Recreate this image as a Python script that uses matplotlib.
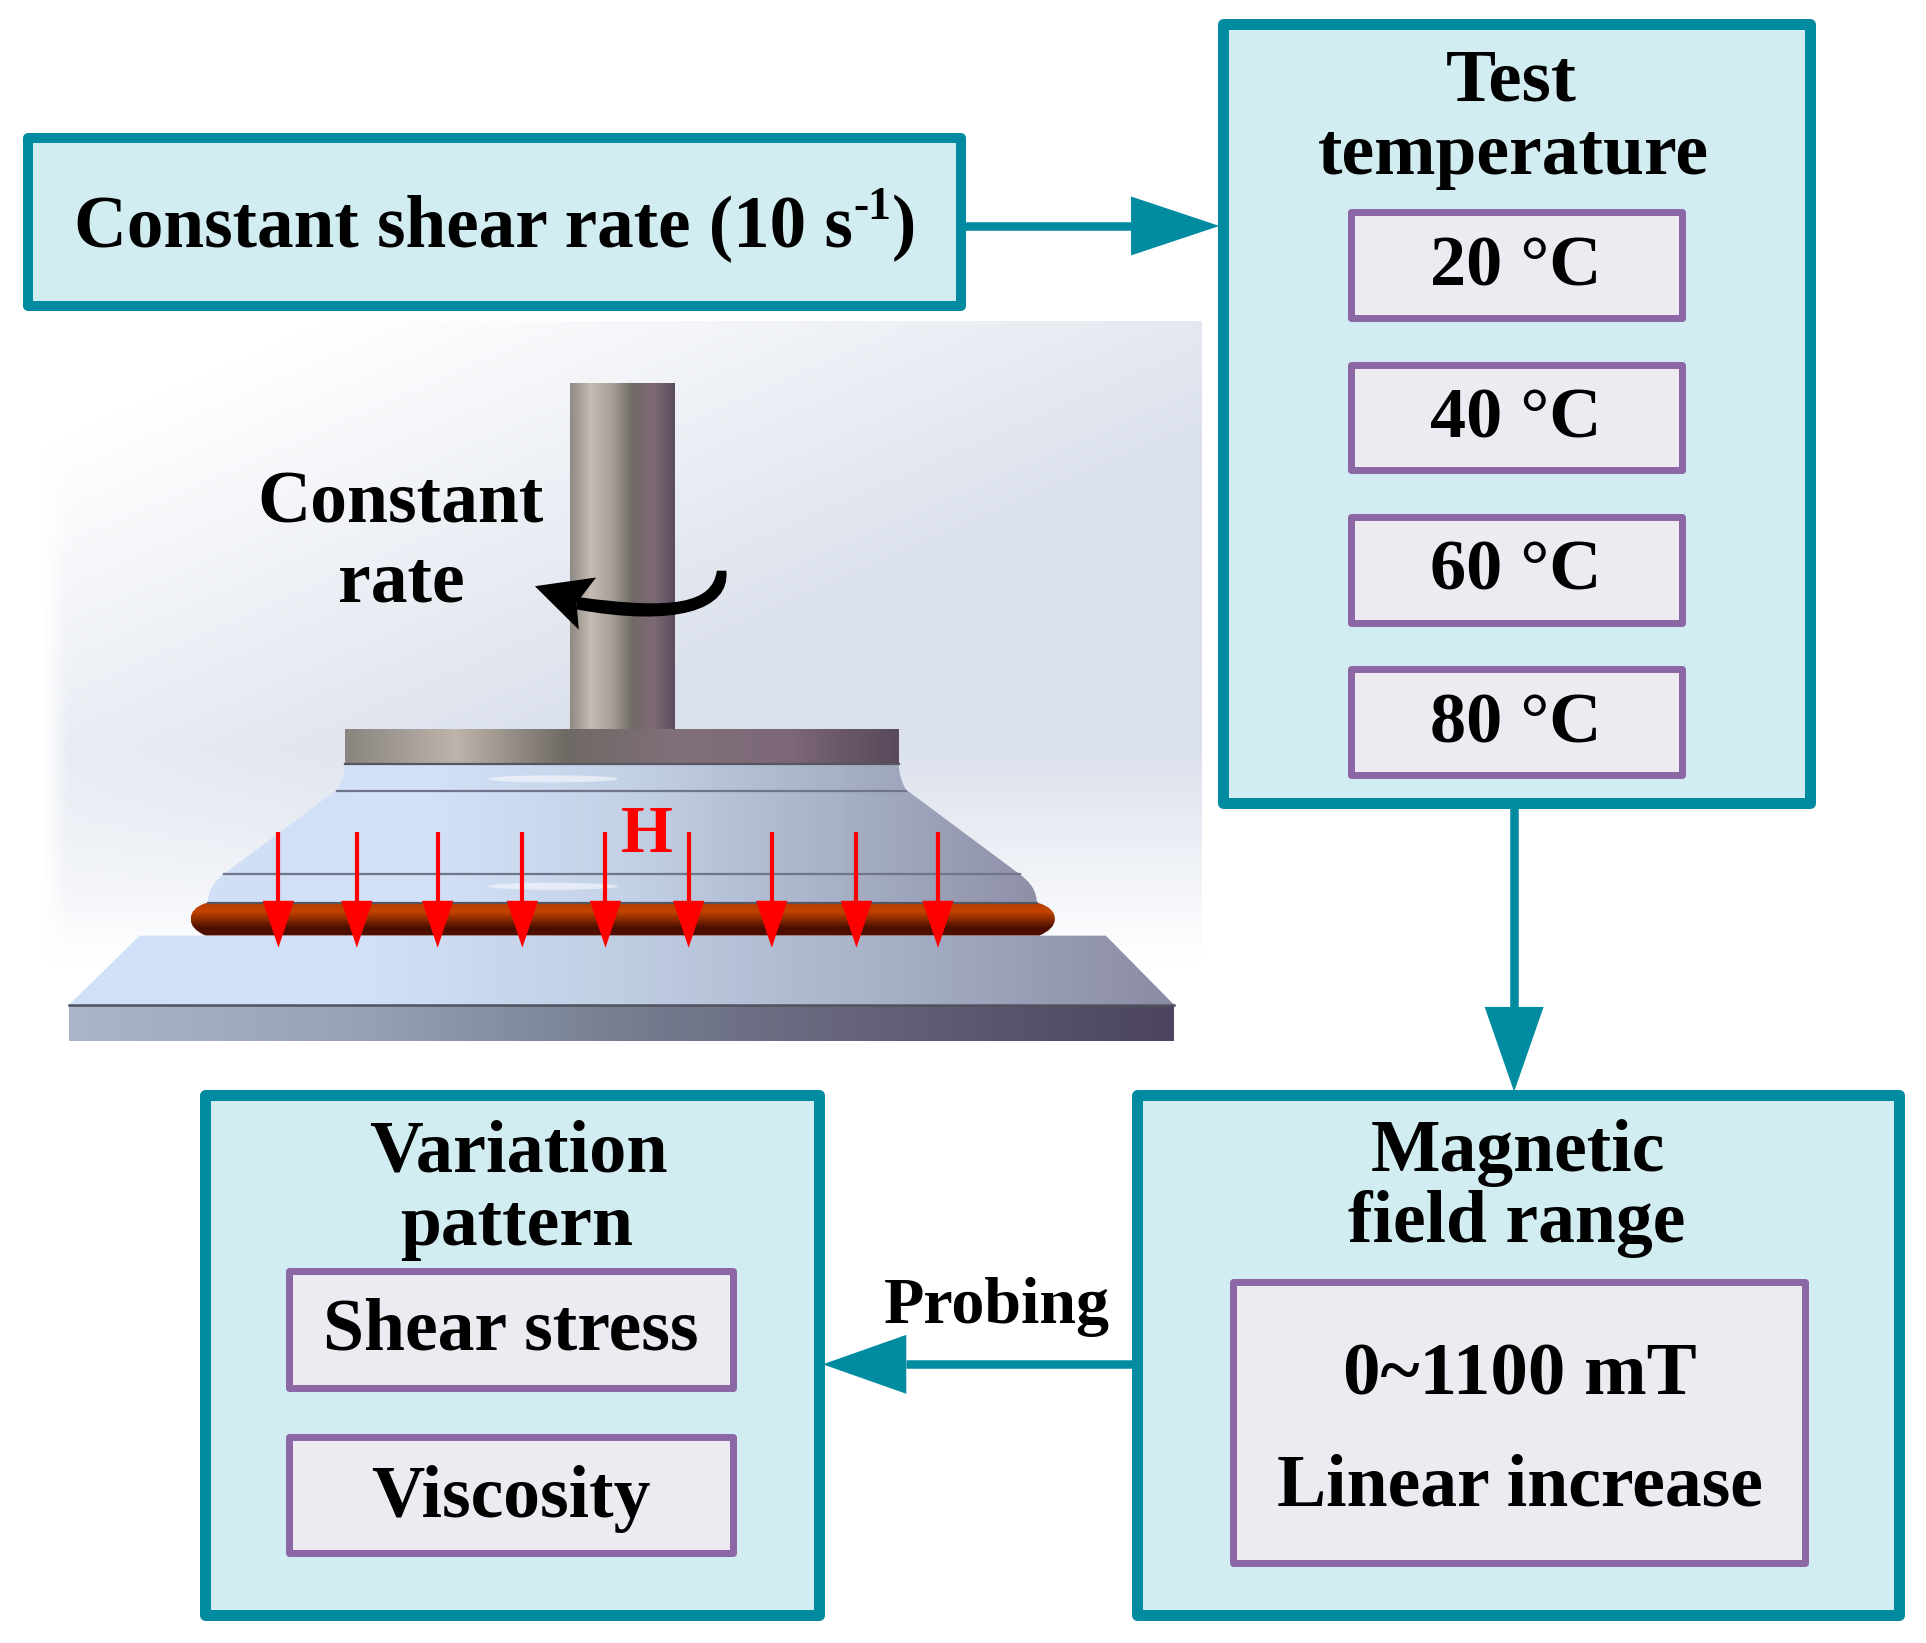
import numpy as np
import matplotlib
matplotlib.use('Agg')
import matplotlib.pyplot as plt
from matplotlib.colors import LinearSegmentedColormap, to_rgb
from matplotlib.patches import Rectangle, Polygon, PathPatch, Ellipse
from matplotlib.path import Path

plt.rcParams['font.family'] = ['Liberation Serif', 'DejaVu Serif']

TEAL = '#008BA0'
TEAL_FILL = '#D2EDF2'
PURPLE = '#8C67A5'
PURPLE_FILL = '#EEEAF2'

temperatures = ['20 °C', '40 °C', '60 °C', '80 °C']
temp_rows = [171, 295, 419, 543]
pattern_labels = ['Shear stress', 'Viscosity']
field_labels = ['0~1100 mT', 'Linear increase']
arrow_columns = [355, 455, 558, 666, 772, 878, 984, 1092, 1196]

S = 1.228  # layout below was measured on a 1568 px wide copy of the figure
ZX, ZY = 1 / 1.275, 0.484  # scene was measured on a zoomed crop, stretched in y

fig = plt.figure(figsize=(19.26, 16.43), dpi=100)
ax = fig.add_axes([0, 0, 1, 1])
ax.set_xlim(0, 1926)
ax.set_ylim(1643, 0)
ax.axis('off')


def zp(x, y):
    return (x * ZX, 320 + y * ZY)


def box(x0, y0, x1, y1, edge, fill, lw_px, pad=0):
    x0, y0, x1, y1 = x0 * S - pad, y0 * S - pad, x1 * S + pad, y1 * S + pad
    ax.add_patch(Rectangle((x0 + lw_px / 2, y0 + lw_px / 2), x1 - x0 - lw_px, y1 - y0 - lw_px,
                           fc=fill, ec=edge, lw=lw_px * 0.72, joinstyle='round', zorder=3))


def label(x, y, s, size, color='black', **kw):
    ax.text(x * S, y * S, s, fontsize=size, fontweight='bold', color=color,
            ha=kw.pop('ha', 'center'), va=kw.pop('va', 'center'), zorder=6, **kw)


def arrow(x0, y0, x1, y1, head_len, head_half):
    # straight arrow with a flat triangular head, in layout coordinates
    d = np.array([x1 - x0, y1 - y0], dtype=float)
    d /= np.hypot(*d)
    n = np.array([-d[1], d[0]])
    tip = np.array([x1, y1], dtype=float)
    base = tip - d * head_len
    ax.plot([x0 * S, base[0] * S], [y0 * S, base[1] * S], color=TEAL, lw=8.5 * 0.72,
            solid_capstyle='butt', zorder=2)
    pts = np.array([tip, base + n * head_half, base - n * head_half]) * S
    ax.add_patch(Polygon(pts, closed=True, fc=TEAL, ec='none', zorder=2))


def shaded(patch, stops, horizontal=True, z=1.5):
    # fill a patch with a linear gradient by clipping an image to it
    ax.add_patch(patch)
    patch.set(fc='none', ec='none', zorder=z)
    ext = patch.get_path().transformed(patch.get_patch_transform()).get_extents()
    cmap = LinearSegmentedColormap.from_list('g', stops)
    g = np.linspace(0, 1, 256)
    g = g[None, :] if horizontal else g[:, None]
    im = ax.imshow(g, cmap=cmap, extent=(ext.x0, ext.x1, ext.y1, ext.y0), aspect='auto',
                   zorder=z, interpolation='bilinear')
    im.set_clip_path(patch)


# scene background
h, w = 300, 470
yy, xx = np.mgrid[0:h, 0:w]
xn, yn = xx / (w - 1), yy / (h - 1)
t = np.clip(1.0 * xn + 1.45 * yn - 0.25, 0, 1)
fade = np.clip((yn - 0.58) / 0.29, 0, 1)
t = t * (1 - fade) * np.clip(xn / 0.02, 0, 1)
top = np.array([1, 1, 1.0])
blue = np.array(to_rgb('#DBE1EC'))
bg = top[None, None, :] * (1 - t[..., None]) + blue[None, None, :] * t[..., None]
ax.imshow(bg, extent=(35 * S, 978 * S, 860 * S, 262 * S), aspect='auto', zorder=1)

metal = ['#8F8A84', '#C5BCB4', '#A8A098', '#6F6964', '#7E6A76', '#5A4C5C']
shaded(Polygon([zp(727, 130), zp(860, 130), zp(860, 845), zp(727, 845)]), metal)
shaded(Polygon([zp(440, 845), zp(1146, 845), zp(1146, 918), zp(440, 918)]),
       ['#8A8580', '#BDB4AC', '#6F6964', '#80707A', '#7D6878', '#57495A'])

# cone shaped upper plate
body = ['#D0DFF6', '#D4E2F9', '#C4D2E8', '#A8B2C8', '#8E90A8']
outline = Path([zp(440, 918), zp(440, 945), zp(430, 970), zp(285, 1145), zp(265, 1170), zp(265, 1205),
                zp(1322, 1205), zp(1322, 1170), zp(1300, 1145), zp(1155, 970), zp(1146, 945), zp(1146, 918),
                zp(440, 918)],
               [Path.MOVETO, Path.CURVE3, Path.CURVE3, Path.LINETO, Path.CURVE3, Path.CURVE3,
                Path.LINETO, Path.CURVE3, Path.CURVE3, Path.LINETO, Path.CURVE3, Path.CURVE3,
                Path.CLOSEPOLY])
shaded(PathPatch(outline), body)
for yc in (948, 1170):
    cx, cy = zp(705, yc)
    ax.add_patch(Ellipse((cx, cy), 130, 7, fc='white', ec='none', alpha=0.55, zorder=1.55))
for a, b in [(zp(430, 973), zp(1155, 973)), (zp(285, 1145), zp(1300, 1145))]:
    ax.plot([a[0], b[0]], [a[1], b[1]], color='#70768A', lw=1.6, zorder=1.6)
for a, b in [(zp(440, 918), zp(1146, 918)), (zp(265, 1204), zp(1322, 1204))]:
    ax.plot([a[0], b[0]], [a[1], b[1]], color='#55565F', lw=1.6, zorder=1.6)

# sample layer
layer = Path([zp(262, 1205), zp(1325, 1205), zp(1345, 1215), zp(1345, 1238), zp(1345, 1258), zp(1325, 1272),
              zp(262, 1272), zp(243, 1258), zp(243, 1238), zp(243, 1215), zp(262, 1205), zp(262, 1205)],
             [Path.MOVETO, Path.LINETO, Path.CURVE3, Path.CURVE3, Path.CURVE3, Path.CURVE3,
              Path.LINETO, Path.CURVE3, Path.CURVE3, Path.CURVE3, Path.CURVE3, Path.CLOSEPOLY])
shaded(PathPatch(layer), ['#B83C00', '#C44400', '#8A2A00', '#4A0E00', '#521000'], horizontal=False)

# lower plate
shaded(Polygon([zp(178, 1272), zp(1410, 1272), zp(1497, 1415), zp(88, 1415)]),
       ['#CFE0F8', '#D4E2F9', '#C0CEE4', '#A6AFC6', '#8A8CA4'])
shaded(Polygon([zp(88, 1415), zp(1497, 1415), zp(1497, 1490), zp(88, 1490)]),
       ['#A9B5C8', '#98A4B6', '#767E90', '#625F76', '#4C4460'])
ax.plot(*zip(zp(88, 1415), zp(1497, 1415)), color='#50525E', lw=1.8, zorder=1.6)

# magnetic field arrows
for xc in arrow_columns:
    xa, ya = zp(xc, 1058)
    ax.plot([xa, xa], [ya, zp(xc, 1205)[1]], color='#FF0000', lw=3.0, zorder=4,
            solid_capstyle='butt')
    ax.add_patch(Polygon([zp(xc, 1297), zp(xc - 20, 1200), zp(xc + 20, 1200)], fc='#FF0000', ec='none', zorder=4))
hx, hy = zp(825, 1066)
ax.text(hx, hy, 'H', fontsize=48, fontweight='bold', color='#FF0000', ha='center', va='center', zorder=5)

# rotation arrow, tapered band
band = Path([zp(926, 518), zp(932, 600), zp(860, 635), zp(735, 598),
             zp(735, 572), zp(860, 600), zp(908, 585), zp(914, 518), zp(926, 518)],
            [Path.MOVETO, Path.CURVE4, Path.CURVE4, Path.CURVE4,
             Path.LINETO, Path.CURVE4, Path.CURVE4, Path.CURVE4, Path.CLOSEPOLY])
ax.add_patch(PathPatch(band, fc='black', ec='none', zorder=5))
ax.add_patch(Polygon([zp(682, 550), zp(760, 532), zp(735, 585), zp(738, 640)], fc='black', ec='none', zorder=5))

# boxes
box(20, 110, 785, 252, TEAL, TEAL_FILL, 10, pad=2)
box(993, 17, 1477, 657, TEAL, TEAL_FILL, 11, pad=2)
box(923, 889, 1549, 1318, TEAL, TEAL_FILL, 11, pad=2)
box(164, 889, 670, 1318, TEAL, TEAL_FILL, 11, pad=2)
for row, temp in zip(temp_rows, temperatures):
    box(1098, row, 1372, row + 90, PURPLE, PURPLE_FILL, 7, pad=1)
    label(1234, row + 47, temp, 52)
box(1002, 1042, 1472, 1275, PURPLE, PURPLE_FILL, 7, pad=1)
box(233, 1033, 599, 1132, PURPLE, PURPLE_FILL, 7, pad=1)
box(233, 1168, 599, 1267, PURPLE, PURPLE_FILL, 7, pad=1)

# connectors
arrow(785, 184, 993, 184, 72, 24)
arrow(1233, 657, 1233, 889, 69, 24)
arrow(923, 1111, 670, 1111, 68, 24)

# text
label(60, 186, 'Constant shear rate (10 s', 52.7, ha='left')
label(695, 169, '-1', 33, ha='left')
label(726, 186, ')', 52.7, ha='left')
label(1231, 67, 'Test', 54)
label(1232, 127, 'temperature', 53)
label(1236, 939, 'Magnetic', 53)
label(1235, 997, 'field range', 53)
label(422, 939, 'Variation', 53.5)
label(421, 999, 'pattern', 53)
label(416, 1084, pattern_labels[0], 53)
label(416, 1221, pattern_labels[1], 53)
label(1238, 1121, field_labels[0], 54)
label(1238, 1211, field_labels[1], 53)
label(812, 1064, 'Probing', 47.5)
label(326, 411, 'Constant', 53)
label(327, 475, 'rate', 53)

ax.set_xlim(0, 1926)
ax.set_ylim(1643, 0)
fig.savefig('out.png', dpi=100, facecolor='white')
